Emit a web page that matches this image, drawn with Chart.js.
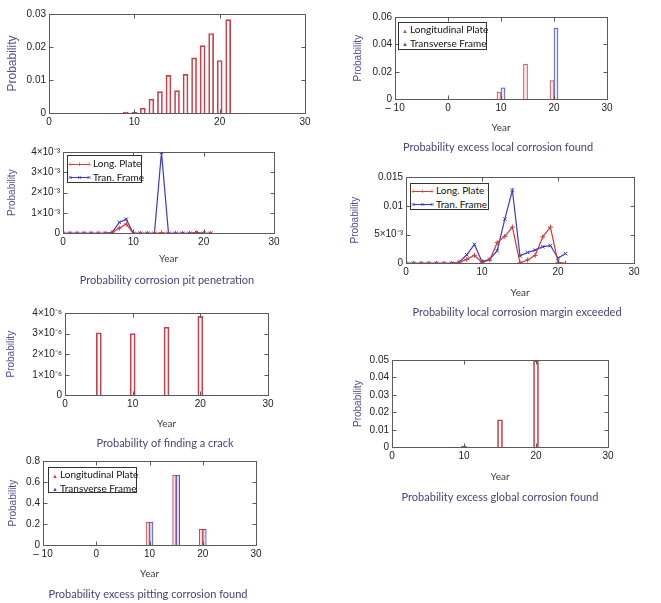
<!DOCTYPE html>
<html>
<head>
<meta charset="utf-8">
<script src="https://cdn.jsdelivr.net/npm/chart.js@4.4.0/dist/chart.umd.min.js"></script>
<style>
  html, body { margin: 0; padding: 0; background: #fff; }
  body { width: 661px; height: 603px; position: relative; overflow: hidden; }
  canvas { position: absolute; }
  .lg { position: absolute; box-sizing: border-box; border: 1px solid #333; background: #fff;
        font: 10px Lato, sans-serif; color: #111; padding: 0 1px; }
  .lg .row { height: 13.5px; line-height: 13.5px; white-space: nowrap; }
  .lg .ln { display: inline-block; position: relative; width: 19px; height: 0; vertical-align: middle; margin: 0 4px 0 1px; }
  .lg .ln i { position: absolute; top: -7px; font-style: normal; font-size: 8px; line-height: 12px; width: 6px; text-align: center; margin-left: -3px; }
  .lg .tri { display: inline-block; font-size: 6px; width: 6px; margin: 0 2px 0 2px; vertical-align: middle; }
</style>
</head>
<body>
<canvas id="c1"></canvas>
<canvas id="c2"></canvas>
<canvas id="c3"></canvas>
<canvas id="c4"></canvas>
<canvas id="c5"></canvas>
<canvas id="c6"></canvas>
<canvas id="c7"></canvas>
<script>
// ---- data ----
const years = [0,1,2,3,4,5,6,7,8,9,10,11,12,13,14,15,16,17,18,19,20,21];

const topBars = [0,0,0,0,0,0,0,0,0,0.0003,0.0002,0.0015,0.0042,0.0065,0.0114,0.0068,0.0117,0.0167,0.0204,0.0241,0.0159,0.0283];

const localFoundLong  = [0,0,0,0,0,0,0,0,0,0,0.0053,0,0,0,0,0.0257,0,0,0,0,0.0137,0];
const localFoundTrans = [0,0,0,0,0,0,0,0,0,0,0.0084,0,0,0,0,0,0,0,0,0,0.052,0];

const pitLong  = [0,0,0,0,0,0,0,0.00003,0.00026,0.00046,0,0,0,0,0.00003,0,0,0,0,0.00002,0,0];
const pitTrans = [0,0,0,0,0,0,0,0.00005,0.00054,0.0007,0,0,0,0,0.00398,0,0,0,0,0.00004,0,0];

const marginLong  = [0,0,0,0,0,0,0,0.0002,0.0007,0.0014,0.0002,0.0006,0.0036,0.0047,0.0063,0.0001,0.0006,0.0014,0.0046,0.0063,0.0002,0];
const marginTrans = [0,0,0,0,0,0,0,0.0002,0.0015,0.0033,0.0003,0.0007,0.0022,0.0077,0.0127,0.0013,0.0019,0.0023,0.0029,0.0031,0.0009,0.0017];

const crackFound = [0,0,0,0,0,3.04e-6,0,0,0,0,3.0e-6,0,0,0,0,3.31e-6,0,0,0,0,3.84e-6,0];

const globalFound = [0,0,0,0,0,0,0,0,0,0,0.0008,0,0,0,0,0.0158,0,0,0,0,0.0496,0];

const pittingLong  = [0,0,0,0,0,0,0,0,0,0,0.22,0,0,0,0,0.667,0,0,0,0,0.152,0];
const pittingTrans = [0,0,0,0,0,0,0,0,0,0,0.22,0,0,0,0,0.667,0,0,0,0,0.152,0];

const barLabels  = ['Longitudinal Plate', 'Transverse Frame'];
const lineLabels = ['Long. Plate', 'Tran. Frame'];

const captions = {
  c2: 'Probability excess local corrosion found',
  c3: 'Probability corrosion pit penetration',
  c4: 'Probability local corrosion margin exceeded',
  c5: 'Probability of finding a crack',
  c6: 'Probability excess global corrosion found',
  c7: 'Probability excess pitting corrosion found'
};

// ---- styling ----
const RED = '#c8404a', BLUE = '#4444c0';
const LRED = '#d23a3a', LBLUE = '#3a3ad0';
const tickFont = { family: 'Liberation Sans', size: 10 };
const capFont = 11;

const pts = vals => years.map((x, i) => ({ x: x, y: vals[i] }));

function xLabel(v) { return v < 0 ? '\u2013 ' + (-v) : String(v); }
function sci(exp, sup) {
  return v => v === 0 ? '0' : Math.round(v * Math.pow(10, exp)) + '\u00d710' + sup;
}

// draws the box round the plot and the little inward ticks
const framePlugin = {
  id: 'frame',
  afterDraw(chart) {
    const { ctx, chartArea: a, scales: { x, y } } = chart;
    const L = Math.round(a.left) + 0.5, R = Math.round(a.right) + 0.5;
    const T = Math.round(a.top) + 0.5, B = Math.round(a.bottom) + 0.5;
    ctx.save();
    ctx.strokeStyle = '#5a5a5a';
    ctx.lineWidth = 1;
    ctx.strokeRect(L, T, R - L, B - T);
    ctx.beginPath();
    x.ticks.forEach(t => {
      const p = Math.round(x.getPixelForValue(t.value)) + 0.5;
      if (p > L + 1 && p < R - 1) { ctx.moveTo(p, T); ctx.lineTo(p, T + 4); ctx.moveTo(p, B); ctx.lineTo(p, B - 4); }
    });
    y.ticks.forEach(t => {
      const p = Math.round(y.getPixelForValue(t.value)) + 0.5;
      if (p > T + 1 && p < B - 1) { ctx.moveTo(L, p); ctx.lineTo(L + 4, p); ctx.moveTo(R, p); ctx.lineTo(R - 4, p); }
    });
    ctx.stroke();
    ctx.restore();
  }
};

function makeChart(id, p, type, datasets, xr, ymax, ystep, yfmt) {
  const cv = document.getElementById(id);
  const ytSize = p.ytSize || 10;
  const left = Math.round(p.ytX - ytSize * 0.6);
  const yW = p.l - left;
  const top = p.t - 8;
  const cap = captions[id];
  const lh = capFont * 1.2;
  const right = cap ? 2 * p.capX - left : p.r + 12;
  const bottom = cap ? Math.round(p.capY + lh / 2 + 2) : p.b + p.xH;
  const padR = right - p.r;
  cv.width = right - left;
  cv.height = bottom - top;
  cv.style.left = left + 'px';
  cv.style.top = top + 'px';

  return new Chart(cv, {
    type: type,
    data: { datasets: datasets },
    options: {
      responsive: false,
      animation: false,
      layout: { padding: { top: 8, right: 0, left: 0, bottom: 0 } },
      plugins: {
        legend: { display: false },
        tooltip: { enabled: false },
        title: cap ? {
          display: true, position: 'bottom', text: cap, color: '#45457a',
          font: { family: 'Lato', size: capFont, weight: 'normal' },
          padding: { top: p.capY - lh / 2 - (p.b + p.xH), bottom: 2 }
        } : { display: false }
      },
      scales: {
        x: {
          type: 'linear', min: xr[0], max: xr[1], offset: false,
          grid: { display: false, drawTicks: false, offset: false },
          border: { display: false },
          ticks: { stepSize: 10, padding: 3, font: tickFont, color: '#222', callback: xLabel, maxRotation: 0 },
          title: cap ? { display: true, text: 'Year', color: '#3a3a3a', font: { family: 'Lato', size: 10 }, padding: 0 } : { display: false },
          afterFit(s) { s.height = p.xH; }
        },
        y: {
          min: 0, max: ymax,
          grid: { display: false, drawTicks: false },
          border: { display: false },
          ticks: { stepSize: ystep, padding: 3, font: tickFont, color: '#222', callback: yfmt },
          title: { display: true, text: 'Probability', color: '#4f4f8f', font: { family: 'Liberation Sans', size: ytSize }, padding: 0 },
          afterFit(s) { s.width = yW; }
        },
        // empty spacer on the right so the caption centres under the plot
        yR: {
          position: 'right', display: true,
          grid: { display: false, drawTicks: false },
          border: { display: false },
          ticks: { display: false },
          afterFit(s) { s.width = padR; }
        }
      }
    },
    plugins: [framePlugin]
  });
}

function htmlLegend(chart, box, kind) {
  const div = document.createElement('div');
  div.className = 'lg';
  div.style.left = box.l + 'px';
  div.style.top = box.t + 'px';
  div.style.width = (box.r - box.l) + 'px';
  div.style.height = (box.b - box.t) + 'px';
  div.style.paddingTop = (box.pt || 0) + 'px';
  chart.data.datasets.forEach(ds => {
    const row = document.createElement('div');
    row.className = 'row';
    const mk = document.createElement('span');
    if (kind === 'bar') {
      mk.className = 'tri';
      mk.textContent = '\u25b2';
      mk.style.color = ds.borderColor;
    } else {
      mk.className = 'ln';
      mk.style.borderTop = '1.2px solid ' + ds.borderColor;
      [0, 9.5, 19].forEach(px => {
        const g = document.createElement('i');
        g.textContent = ds.pointStyle === 'cross' ? '+' : '\u00d7';
        g.style.left = px + 'px';
        g.style.color = ds.borderColor;
        mk.appendChild(g);
      });
    }
    row.appendChild(mk);
    row.appendChild(document.createTextNode(ds.label));
    div.appendChild(row);
  });
  document.body.appendChild(div);
}

function barSet(label, vals, color, fill, w) {
  return { label: label, data: pts(vals), borderColor: color, backgroundColor: fill,
           borderWidth: 1, barThickness: w, borderSkipped: 'start' };
}
function lineSet(label, vals, color, style) {
  return { label: label, data: pts(vals), borderColor: color, backgroundColor: color,
           borderWidth: 1.2, tension: 0, pointStyle: style, pointRadius: 2.5,
           pointBorderWidth: 1, pointBorderColor: color };
}

// panel 1 (top left, no caption)
makeChart('c1', { l: 49, t: 13, r: 305, b: 113, xH: 16, ytX: 12, ytSize: 12 }, 'bar',
  [barSet('Probability', topBars, RED, 'rgba(255,255,255,0)', 5)],
  [0, 30], 0.03, 0.01);

// panel 2
const ch2 = makeChart('c2', { l: 395, t: 16, r: 607, b: 99, xH: 34, ytX: 358, capX: 498, capY: 147 }, 'bar',
  [barSet(barLabels[0], localFoundLong, RED, '#fbe9ea', 4),
   barSet(barLabels[1], localFoundTrans, BLUE, '#e6e6fa', 4)],
  [-10, 30], 0.06, 0.02);
htmlLegend(ch2, { l: 398, t: 22, r: 487, b: 50 }, 'bar');

// panel 3
const ch3 = makeChart('c3', { l: 63, t: 151, r: 274, b: 233, xH: 31, ytX: 12, capX: 167, capY: 280 }, 'line',
  [lineSet(lineLabels[0], pitLong, LRED, 'cross'),
   lineSet(lineLabels[1], pitTrans, LBLUE, 'crossRot')],
  [0, 30], 0.004, 0.001, sci(3, '\u207b\u00b3'));
htmlLegend(ch3, { l: 67, t: 155, r: 142, b: 183, pt: 1 }, 'line');

// panel 4
const ch4 = makeChart('c4', { l: 406, t: 176, r: 634, b: 263, xH: 35, ytX: 355, capX: 517, capY: 312 }, 'line',
  [lineSet(lineLabels[0], marginLong, LRED, 'cross'),
   lineSet(lineLabels[1], marginTrans, LBLUE, 'crossRot')],
  [0, 30], 0.015, 0.005, v => Math.abs(v - 0.005) < 1e-9 ? '5\u00d710\u207b\u00b3' : String(+v.toFixed(3)));
htmlLegend(ch4, { l: 410, t: 183, r: 489, b: 210 }, 'line');

// panel 5
makeChart('c5', { l: 65, t: 312, r: 268, b: 395, xH: 34, ytX: 11, capX: 165, capY: 443 }, 'bar',
  [barSet('Crack', crackFound, RED, 'rgba(255,255,255,0)', 5)],
  [0, 30], 4e-6, 1e-6, sci(6, '\u207b\u2076'));

// panel 6
makeChart('c6', { l: 392, t: 359, r: 608, b: 447, xH: 35, ytX: 358, capX: 500, capY: 497 }, 'bar',
  [barSet('Global', globalFound, RED, 'rgba(255,255,255,0)', 5)],
  [0, 30], 0.05, 0.01);

// panel 7
const ch7 = makeChart('c7', { l: 43, t: 460, r: 256, b: 545, xH: 34, ytX: 13, capX: 148, capY: 594 }, 'bar',
  [barSet(barLabels[0], pittingLong, RED, '#f6dede', 3.5),
   barSet(barLabels[1], pittingTrans, BLUE, '#dcdcf6', 3.5)],
  [-10, 30], 0.8, 0.2);
htmlLegend(ch7, { l: 48, t: 467, r: 137, b: 493 }, 'bar');
</script>
</body>
</html>
